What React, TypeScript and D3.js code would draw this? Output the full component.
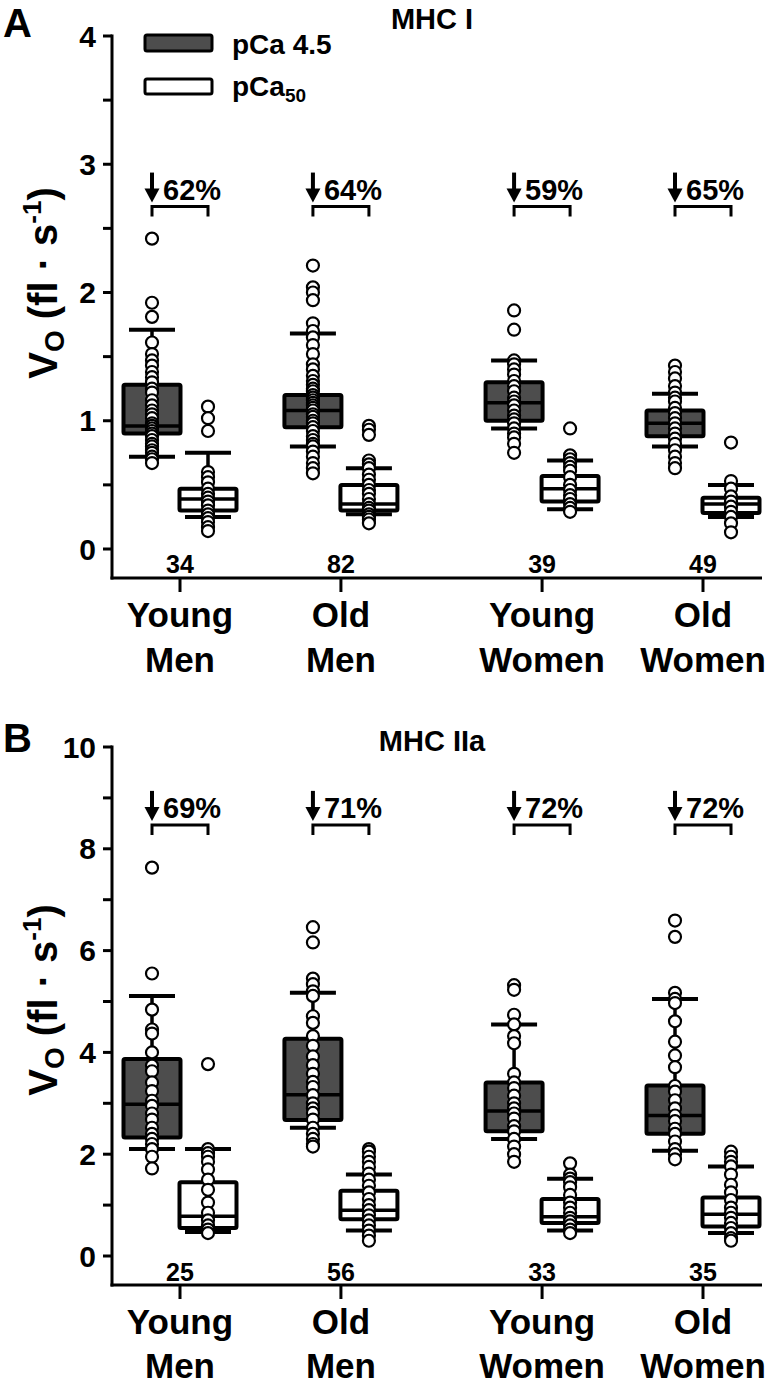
import React from 'react';
import * as d3 from 'd3';

// ---------- data ----------
const groupLines: string[][] = [['Young', 'Men'], ['Old', 'Men'], ['Young', 'Women'], ['Old', 'Women']];
const groupPos = [1, 2, 3.25, 4.25];

// stats: [whiskerLow, q1, median, q3, whiskerHigh]
const statsA_pCa45 = [[0.72, 0.90, 0.96, 1.28, 1.71], [0.80, 0.95, 1.08, 1.20, 1.68], [0.94, 1.00, 1.14, 1.30, 1.47], [0.80, 0.88, 0.98, 1.08, 1.21]];
const statsA_pCa50 = [[0.25, 0.30, 0.39, 0.47, 0.75], [0.27, 0.30, 0.35, 0.50, 0.63], [0.31, 0.37, 0.47, 0.57, 0.69], [0.25, 0.28, 0.35, 0.40, 0.50]];
const pointsA_pCa45 = [
  [2.42, 1.92, 1.81, 1.61, 1.52, 1.47, 1.43, 1.38, 1.34, 1.30, 1.25, 1.22, 1.16, 1.12, 1.08, 1.05, 1.02, 0.98, 0.96, 0.94, 0.92, 0.90, 0.88, 0.85, 0.82, 0.80, 0.77, 0.75, 0.72, 0.70, 0.67],
  [2.21, 2.04, 2.00, 1.94, 1.76, 1.70, 1.65, 1.59, 1.52, 1.44, 1.40, 1.35, 1.31, 1.28, 1.25, 1.23, 1.20, 1.18, 1.16, 1.14, 1.12, 1.10, 1.08, 1.05, 1.03, 1.00, 0.98, 0.95, 0.92, 0.88, 0.85, 0.82, 0.80, 0.76, 0.72, 0.67, 0.63, 0.59],
  [1.86, 1.71, 1.47, 1.44, 1.40, 1.36, 1.31, 1.27, 1.23, 1.18, 1.15, 1.12, 1.08, 1.04, 1.01, 0.98, 0.94, 0.90, 0.87, 0.82, 0.75],
  [1.43, 1.38, 1.33, 1.27, 1.22, 1.18, 1.15, 1.10, 1.06, 1.02, 0.98, 0.94, 0.90, 0.86, 0.82, 0.77, 0.72, 0.67, 0.63],
];
const pointsA_pCa50 = [
  [1.11, 1.02, 0.92, 0.60, 0.56, 0.52, 0.47, 0.43, 0.40, 0.37, 0.34, 0.30, 0.27, 0.24, 0.21, 0.17, 0.14],
  [0.96, 0.93, 0.89, 0.69, 0.66, 0.63, 0.58, 0.54, 0.50, 0.46, 0.43, 0.39, 0.35, 0.32, 0.30, 0.27, 0.25, 0.23, 0.20],
  [0.94, 0.73, 0.70, 0.67, 0.64, 0.61, 0.56, 0.50, 0.46, 0.42, 0.39, 0.35, 0.32, 0.29],
  [0.83, 0.53, 0.47, 0.41, 0.37, 0.33, 0.29, 0.25, 0.20, 0.13],
];
const nA = [34, 82, 39, 49];
const pctA = ['62%', '64%', '59%', '65%'];

const statsB_pCa45 = [[2.10, 2.33, 2.98, 3.87, 5.11], [2.52, 2.67, 3.17, 4.27, 5.17], [2.30, 2.45, 2.85, 3.41, 4.55], [2.07, 2.40, 2.76, 3.35, 5.05]];
const statsB_pCa50 = [[0.47, 0.55, 0.78, 1.45, 2.10], [0.50, 0.72, 0.90, 1.28, 1.60], [0.50, 0.65, 0.77, 1.12, 1.52], [0.45, 0.58, 0.82, 1.15, 1.76]];
const pointsB_pCa45 = [
  [7.63, 5.55, 4.84, 4.45, 4.37, 4.00, 3.74, 3.63, 3.41, 3.24, 3.05, 2.95, 2.80, 2.68, 2.52, 2.40, 2.30, 2.20, 2.10, 1.95, 1.72],
  [6.46, 6.16, 5.45, 5.34, 5.20, 5.11, 4.71, 4.58, 4.32, 4.13, 3.92, 3.75, 3.58, 3.42, 3.32, 3.16, 3.00, 2.90, 2.81, 2.68, 2.52, 2.40, 2.30, 2.20, 2.15],
  [5.32, 5.23, 4.74, 4.55, 4.32, 4.18, 3.58, 3.41, 3.30, 3.15, 3.00, 2.90, 2.80, 2.70, 2.55, 2.45, 2.30, 2.15, 2.00, 1.85],
  [6.59, 6.27, 5.17, 5.05, 4.97, 4.61, 4.21, 3.94, 3.71, 3.34, 3.23, 3.06, 2.90, 2.76, 2.65, 2.50, 2.40, 2.25, 2.10, 2.00, 1.90],
];
const pointsB_pCa50 = [
  [3.77, 2.10, 2.02, 1.95, 1.85, 1.70, 1.50, 1.30, 1.05, 0.85, 0.70, 0.60, 0.52, 0.45],
  [2.10, 2.05, 1.95, 1.85, 1.75, 1.62, 1.50, 1.38, 1.25, 1.12, 1.00, 0.90, 0.80, 0.70, 0.60, 0.50, 0.40, 0.30],
  [1.82, 1.60, 1.52, 1.45, 1.35, 1.20, 1.05, 0.95, 0.85, 0.75, 0.68, 0.60, 0.52, 0.45],
  [2.05, 1.95, 1.85, 1.76, 1.60, 1.40, 1.25, 1.10, 0.95, 0.85, 0.75, 0.65, 0.55, 0.45, 0.35, 0.30],
];
const nB = [25, 56, 33, 35];
const pctB = ['69%', '71%', '72%', '72%'];

const ticksA = [0, 1, 2, 3, 4];
const minorA = [0.5, 1.5, 2.5, 3.5];
const ticksB = [0, 2, 4, 6, 8, 10];
const minorB = [1, 3, 5, 7, 9];

// ---------- layout ----------
const FONT = '"Liberation Sans", Arial, Helvetica, sans-serif';
const AXIS_X = 112;
const AXIS_RIGHT = 762;
const DARK = '#4d4d4d';

const xScale = d3.scaleLinear().domain([1, 4.25]).range([180, 703]);
const HALF_OFF = 28;
const BOX_W = 57;
const CAP_W = 46;

interface Geo {
  top: number; zero: number; axis: number; n: number; l1: number; l2: number;
  title: number; letter: number; ylab: number;
}
const geoA: Geo = { top: 36, zero: 549, axis: 578, n: 573, l1: 627, l2: 672, title: 29, letter: 37, ylab: 283 };
const geoB: Geo = { top: 747, zero: 1256, axis: 1285, n: 1281, l1: 1334, l2: 1378, title: 751, letter: 752, ylab: 1000 };

interface PanelProps {
  geo: Geo;
  letter: string;
  title: string;
  domainMax: number;
  ticks: number[];
  minor: number[];
  stats45: number[][];
  stats50: number[][];
  pts45: number[][];
  pts50: number[][];
  ns: number[];
  pcts: string[];
  bracketV: number;
  legend: boolean;
}

function Box({ cx, s, fill, y }: { cx: number; s: number[]; fill: string; y: d3.ScaleLinear<number, number> }) {
  const [lo, q1, med, q3, hi] = s;
  return (
    <g>
      <line x1={cx} x2={cx} y1={y(hi)} y2={y(q3)} stroke="#000" strokeWidth={3.5} />
      <line x1={cx} x2={cx} y1={y(q1)} y2={y(lo)} stroke="#000" strokeWidth={3.5} />
      <line x1={cx - CAP_W / 2} x2={cx + CAP_W / 2} y1={y(hi)} y2={y(hi)} stroke="#000" strokeWidth={4} />
      <line x1={cx - CAP_W / 2} x2={cx + CAP_W / 2} y1={y(lo)} y2={y(lo)} stroke="#000" strokeWidth={4} />
      <rect x={cx - BOX_W / 2} y={y(q3)} width={BOX_W} height={y(q1) - y(q3)} fill={fill} stroke="#000" strokeWidth={4} rx={1.5} />
      <line x1={cx - BOX_W / 2} x2={cx + BOX_W / 2} y1={y(med)} y2={y(med)} stroke="#000" strokeWidth={3.5} />
    </g>
  );
}

function Panel(p: PanelProps) {
  const g0 = p.geo;
  const y = d3.scaleLinear().domain([0, p.domainMax]).range([g0.zero, g0.top]);
  const axisBottom = g0.axis;
  return (
    <g fontFamily={FONT} fontWeight="bold">
      <text x={3} y={g0.letter} fontSize={40}>{p.letter}</text>
      <text x={432} y={g0.title} fontSize={29} textAnchor="middle">{p.title}</text>

      {/* y axis */}
      <line x1={AXIS_X} x2={AXIS_X} y1={y(p.domainMax) - 1.5} y2={axisBottom + 1.5} stroke="#000" strokeWidth={3} />
      <line x1={AXIS_X - 1.5} x2={AXIS_RIGHT} y1={axisBottom} y2={axisBottom} stroke="#000" strokeWidth={3} />
      {p.ticks.map((t) => (
        <g key={'t' + t}>
          <line x1={AXIS_X - 9} x2={AXIS_X} y1={y(t)} y2={y(t)} stroke="#000" strokeWidth={3} />
          <text x={96} y={y(t) + 10.5} fontSize={30} textAnchor="end">{t}</text>
        </g>
      ))}
      {p.minor.map((t) => (
        <line key={'m' + t} x1={AXIS_X - 9} x2={AXIS_X} y1={y(t)} y2={y(t)} stroke="#000" strokeWidth={3} />
      ))}
      {/* y label */}
      <text transform={`translate(57,${g0.ylab}) rotate(-90)`} fontSize={40} textAnchor="middle">
        V<tspan fontSize={28} dy={7}>O</tspan>
        <tspan dy={-7}> (fl · s</tspan>
        <tspan fontSize={26} dy={-16}>-1</tspan>
        <tspan dy={16}>)</tspan>
      </text>

      {/* x ticks & labels */}
      {groupPos.map((g, i) => {
        const cx = xScale(g);
        return (
          <g key={'x' + i}>
            <line x1={cx} x2={cx} y1={axisBottom} y2={axisBottom + 14} stroke="#000" strokeWidth={3} />
            <text x={cx} y={g0.l1} fontSize={35} textAnchor="middle">{groupLines[i][0]}</text>
            <text x={cx} y={g0.l2} fontSize={35} textAnchor="middle">{groupLines[i][1]}</text>
            <text x={cx} y={g0.n} fontSize={25} textAnchor="middle">{p.ns[i]}</text>
          </g>
        );
      })}

      {/* boxes */}
      {groupPos.map((g, i) => {
        const c1 = xScale(g) - HALF_OFF;
        const c2 = xScale(g) + HALF_OFF;
        return (
          <g key={'b' + i}>
            <Box cx={c1} s={p.stats45[i]} fill={DARK} y={y} />
            <Box cx={c2} s={p.stats50[i]} fill="#fff" y={y} />
            {p.pts45[i].map((v, j) => (
              <circle key={'p' + j} cx={c1} cy={y(v)} r={6} fill="#fff" stroke="#000" strokeWidth={2.2} />
            ))}
            {p.pts50[i].map((v, j) => (
              <circle key={'q' + j} cx={c2} cy={y(v)} r={6} fill="#fff" stroke="#000" strokeWidth={2.2} />
            ))}
          </g>
        );
      })}

      {/* annotations */}
      {groupPos.map((g, i) => {
        const c1 = xScale(g) - HALF_OFF;
        const c2 = xScale(g) + HALF_OFF;
        const by = y(p.bracketV);
        return (
          <g key={'a' + i}>
            <path d={`M${c1},${by + 10}V${by}H${c2}V${by + 10}`} fill="none" stroke="#000" strokeWidth={3} />
            <line x1={c1} x2={c1} y1={by - 34} y2={by - 14} stroke="#000" strokeWidth={4} />
            <path d={`M${c1 - 7.5},${by - 18}L${c1 + 7.5},${by - 18}L${c1},${by - 4}Z`} fill="#000" />
            <text x={c1 + 11} y={by - 7} fontSize={29}>{p.pcts[i]}</text>
          </g>
        );
      })}

      {p.legend && (
        <g>
          <rect x={145} y={35} width={67} height={16} rx={2} fill={DARK} stroke="#000" strokeWidth={3} />
          <rect x={145} y={79} width={67} height={15} rx={2} fill="#fff" stroke="#000" strokeWidth={3} />
          <text x={232} y={54} fontSize={28}>pCa 4.5</text>
          <text x={232} y={96} fontSize={28}>pCa<tspan fontSize={19} dy={6}>50</tspan></text>
        </g>
      )}
    </g>
  );
}

export default function App() {
  return (
    <svg width={766} height={1386} style={{ display: 'block', position: 'absolute', left: 0, top: 0, background: '#fff' }}>
      <rect width={766} height={1386} fill="#fff" />
      <Panel geo={geoA} letter="A" title="MHC I" domainMax={4} ticks={ticksA} minor={minorA}
        stats45={statsA_pCa45} stats50={statsA_pCa50} pts45={pointsA_pCa45} pts50={pointsA_pCa50}
        ns={nA} pcts={pctA} bracketV={2.67} legend={true} />
      <Panel geo={geoB} letter="B" title="MHC IIa" domainMax={10} ticks={ticksB} minor={minorB}
        stats45={statsB_pCa45} stats50={statsB_pCa50} pts45={pointsB_pCa45} pts50={pointsB_pCa50}
        ns={nB} pcts={pctB} bracketV={8.47} legend={false} />
    </svg>
  );
}
